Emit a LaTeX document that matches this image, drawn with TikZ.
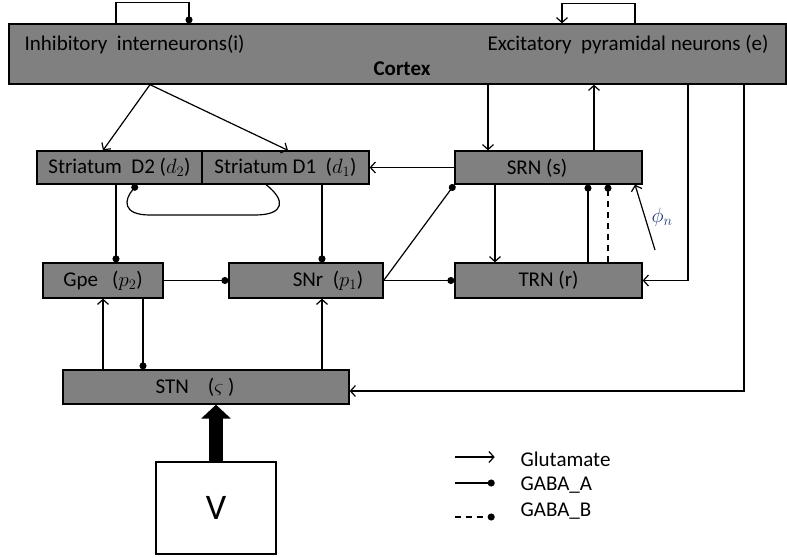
\documentclass[tikz,border=0pt]{standalone}
\usepackage{fontspec}
\setmainfont{Carlito}
\usetikzlibrary{positioning, arrows.meta}

\definecolor{boxgray}{HTML}{808080}
\definecolor{phiblue}{HTML}{1F3A7A}

\begin{document}
\begin{tikzpicture}[
  x=1pt, y=-1pt,
  font=\fontsize{21}{25}\selectfont,
  line width=1.2pt,
  glu/.style={-{Straight Barb[length=5pt,width=11pt]}},
  gabaa/.style={-{Circle[length=7pt]}},
  gabab/.style={gabaa, dash pattern=on 6pt off 5pt},
  area/.style={draw, fill=boxgray, line width=1.3pt, inner sep=0pt},
  plainbox/.style={draw, fill=white, line width=1.3pt, inner sep=0pt},
]
\useasboundingbox (0,0) rectangle (787,557);

% ---- boxes ----
\node[area, minimum width=777pt, minimum height=60pt] (cortex) at (397.5,54) {};
\node[area, minimum width=165pt, minimum height=33pt] (d2) at (119.5,167.5) {Striatum~ D2 ($d_2$)};
\node[area, minimum width=167pt, minimum height=33pt] (d1) at (285.5,167.5) {Striatum D1~ ($d_1$)};
\node[area, minimum width=187pt, minimum height=33pt] (srn) at (548.5,167.5) {};
\node[area, minimum width=187pt, minimum height=35pt] (trn) at (548.5,280.5) {TRN (r)};
\node[area, minimum width=120pt, minimum height=35pt] (gpe) at (103,280.5) {Gpe~ ~($p_2$)};
\node[area, minimum width=154pt, minimum height=35pt] (snr) at (306,280.5) {};
\node[area, minimum width=286pt, minimum height=34pt] (stn) at (206,387) {};
\node[plainbox, minimum width=120pt, minimum height=92pt, font=\fontsize{36}{42}\selectfont] (v) at (216,508) {V};

% ---- texts set off-centre in their boxes ----
\node[anchor=west] (inhtxt) at (20.7,45) {Inhibitory~ interneurons(i)};
\node[anchor=west] (exctxt) at (483.7,45) {Excitatory~ pyramidal neurons (e)};
\node[font=\fontsize{21}{25}\selectfont\bfseries] (ctxtxt) at (402,69) {Cortex};
\node (srntxt) at (537,168) {SRN (s)};
\node (snrtxt) at (328,281) {SNr~ ($p_1$)};
\node (stntxt) at (195,387) {STN~ ~ ($\varsigma$ )};

% ---- cortical loops ----
\draw[gabaa] (cortex.north -| 116,0) -- ++(0,-21) -| (cortex.north -| 189,0);
\draw[glu] (cortex.north -| 635,0) -- ++(0,-20) -| (cortex.north -| 562,0);

% ---- cortex outputs ----
\coordinate (inh) at (cortex.south -| 150,0);
\draw[glu] (inh) -- (d2.north -| 103,0);
\draw[glu] (inh) -- (d1.north -| 288,0);
\draw[glu] (cortex.south -| 488,0) -- (srn.north -| 488,0);
\draw[glu] (srn.north -| 594,0) -- (cortex.south -| 594,0);
\draw[glu] (cortex.south -| 688,0) |- (trn.east);
\draw[glu] (cortex.south -| 744,0) |- ([yshift=-4pt]stn.east);

% ---- striatum ----
\draw[glu] (srn.west) -- (d1.east);
\draw[gabaa] (d2.south -| 116,0) -- (gpe.north -| 116,0);
\draw[gabaa] (d1.south -| 322,0) -- (snr.north -| 322,0);
\draw[gabaa] (d1.south -| 266,0) .. controls (286,200) and (285,215) .. (255,215)
  -- (150,215) .. controls (122,215) and (124,200) .. (d2.south -| 137,0);

% ---- pallidum / nigra / thalamus ----
\draw[gabaa] (gpe.east) -- (snr.west);
\draw[gabaa] (snr.east) -- (trn.west);
\draw[gabaa] (snr.east) -- (srn.south west);
\draw[glu] (srn.south -| 495,0) -- (trn.north -| 495,0);
\draw[gabaa] (trn.north -| 588,0) -- (srn.south -| 588,0);
\draw[gabab] (trn.north -| 608,0) -- (srn.south -| 608,0);
\coordinate (phin) at (655,250);
\draw[glu] (phin) -- (srn.south -| 635,0);
\node[text=phiblue] (phitxt) at (662,217) {$\phi_n$};

% ---- STN ----
\draw[glu] (stn.north -| 103,0) -- (gpe.south -| 103,0);
\draw[gabaa] (gpe.south -| 143,0) -- (stn.north -| 143,0);
\draw[glu] (stn.north -| 322,0) -- (snr.south -| 322,0);
\draw[line width=14pt, -{Triangle[length=14pt,width=29pt]}] (v.north) -- (v.north |- stn.south);

% ---- legend ----
\node[anchor=west] (lglu) at (516.7,459) {Glutamate};
\node[anchor=west] (lgaa) at (516.7,485) {GABA\_A};
\node[anchor=west] (lgab) at (516.7,511) {GABA\_B};
\draw[glu] ([xshift=-62pt,yshift=2pt]lglu.west) -- ([xshift=-22pt,yshift=2pt]lglu.west);
\draw[gabaa] ([xshift=-62pt,yshift=2pt]lgaa.west) -- ([xshift=-22pt,yshift=2pt]lgaa.west);
\draw[gabab] ([xshift=-62pt,yshift=-6pt]lgab.west) -- ([xshift=-22pt,yshift=-6pt]lgab.west);

\end{tikzpicture}
\end{document}
